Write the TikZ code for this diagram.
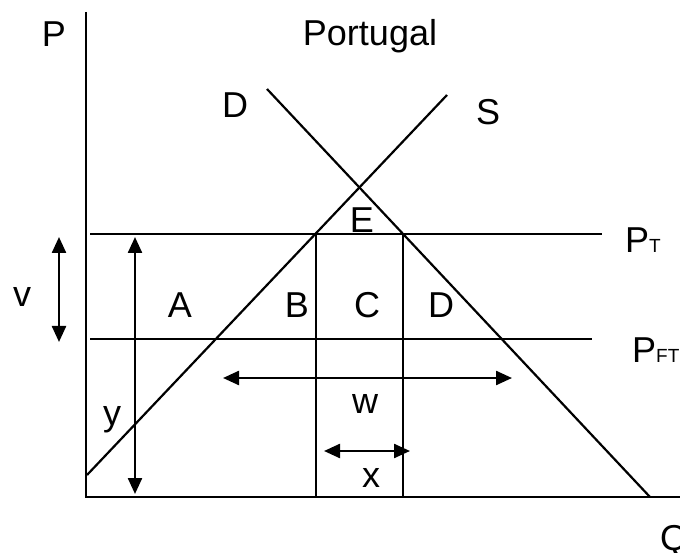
\documentclass[tikz,border=0pt]{standalone}
\usepackage{fontspec}
\setmainfont{Liberation Sans}
\usetikzlibrary{arrows.meta}
\begin{document}
\begin{tikzpicture}[
  x=1pt, y=-1pt,
  font=\fontsize{36}{40}\selectfont,
  axis/.style={line width=2.4pt},
  curve/.style={line width=2.2pt},
  level/.style={line width=2pt},
  span/.style={line width=2.4pt,
               {Triangle[length=16pt,width=14pt]}-{Triangle[length=16pt,width=14pt]}},
  lbl/.style={inner sep=0pt, anchor=base},
]
\useasboundingbox (0,0) rectangle (680,553);

% ── Axes ──────────────────────────────────────────────────────────────────────
\coordinate (ptop)   at (86,12);
\coordinate (origin) at (86,497);
\coordinate (qend)   at (700,497);
\draw[axis] (ptop) -- (origin) -- (qend);

% ── Supply and demand ─────────────────────────────────────────────────────────
\coordinate (s0) at (87,475);
\coordinate (s1) at (447,95);
\coordinate (d0) at (267,89);
\coordinate (d1) at (650,497);
\draw[curve] (s0) -- (s1);
\draw[curve] (d0) -- (d1);

% ── Price levels ──────────────────────────────────────────────────────────────
\coordinate (pt0)  at (90,234);
\coordinate (pt1)  at (602,234);
\coordinate (pft0) at (90,339);
\coordinate (pft1) at (592,339);
\draw[level] (pt0) -- (pt1);
\draw[level] (pft0) -- (pft1);

\coordinate (b0) at (316,234);
\coordinate (b1) at (316,497);
\coordinate (c0) at (403,234);
\coordinate (c1) at (403,497);
\draw[level] (b0) -- (b1);
\draw[level] (c0) -- (c1);

% ── Double arrows ─────────────────────────────────────────────────────────────
\coordinate (v0) at (59,237);
\coordinate (v1) at (59,342);
\coordinate (y0) at (135,237);
\coordinate (y1) at (135,494);
\coordinate (w0) at (223,378);
\coordinate (w1) at (512,378);
\coordinate (x0) at (324,451);
\coordinate (x1) at (410,451);
\draw[span] (v0) -- (v1);
\draw[span] (y0) -- (y1);
\draw[span] (w0) -- (w1);
\draw[span] (x0) -- (x1);

% ── Labels ────────────────────────────────────────────────────────────────────
\node[lbl] (plabel) at (54,47) {P};
\node[lbl] (title) at (370,46) {Portugal};
\node[lbl] (dtop) at (235,118) {D};
\node[lbl] (slabel) at (488,125) {S};
\node[lbl] (elabel) at (362,233) {E};
\node[lbl, anchor=base west] (ptlabel) at (625,253) {P{\fontsize{19}{20}\selectfont T}};
\node[lbl, anchor=base west] (pftlabel) at (632,362) {P{\fontsize{19}{20}\selectfont FT}};
\node[lbl] (vlabel) at (22,307) {v};
\node[lbl] (alabel) at (180,318) {A};
\node[lbl] (blabel) at (297,318) {B};
\node[lbl] (clabel) at (367,318) {C};
\node[lbl] (dlabel) at (441,318) {D};
\node[lbl] (wlabel) at (365,413) {w};
\node[lbl] (xlabel) at (371,487) {x};
\node[lbl] (ylabel) at (112,425) {y};
\node[lbl, anchor=base west] (qlabel) at (660,550) {Q};

\end{tikzpicture}
\end{document}
